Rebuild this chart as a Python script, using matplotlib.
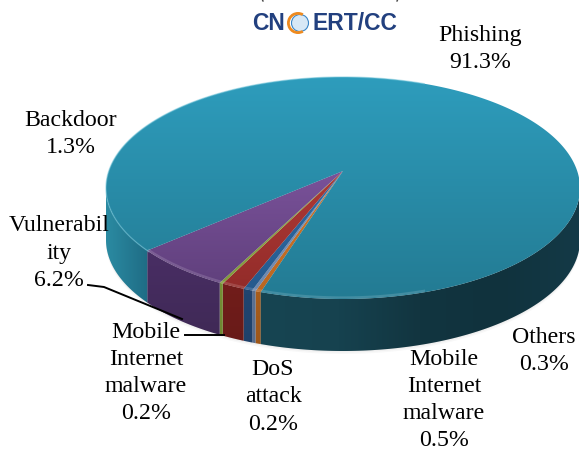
import numpy as np
import matplotlib
matplotlib.use("Agg")
import matplotlib.pyplot as plt
from matplotlib.patches import Polygon, Wedge, Circle
from matplotlib.colors import LinearSegmentedColormap as LSC

# clockwise order, starting at the Phishing slice's right boundary
categories = ["Others", "DoS attack", "Mobile Internet malware", "Backdoor",
              "Mobile Internet malware", "Vulnerability", "Phishing"]
values = [0.3, 0.2, 0.5, 1.3, 0.2, 6.2, 91.3]
top_cols = [("#d2782c", "#b8651f"), ("#7f97bb", "#6d86ac"), ("#2f6ea8", "#24578a"),
            ("#b03a36", "#8f2a28"), ("#93a94a", "#7f9a3a"), ("#7a529a", "#5c3d78"),
            ("#2e9dbd", "#237a92")]
side_cols = [("#b5641f", "#9a5519"), ("#5f7596", "#566b8c"), ("#234a78", "#1f4068"),
             ("#7a1f1c", "#661a18"), ("#7f9a3a", "#6a8230"), ("#4b2f68", "#3d2852"),
             ("#164a5c", "#1d7088")]

W, H = 579, 452
cx, cy, rx, ry = 343, 189, 237, 111
apex = (343, 172)
depth = 52
start_deg = 15.8  # true angle (left of straight down) where the first slice begins
persp = 0.30      # perspective stretch of the front of the pie

plt.rcParams["font.family"] = ["Liberation Serif", "DejaVu Serif"]
fig = plt.figure(figsize=(W / 100, H / 100), dpi=100)
ax = fig.add_axes([0, 0, 1, 1])
ax.set_xlim(0, W); ax.set_ylim(H, 0); ax.axis("off")


def warp(t):
    return t + np.degrees(persp * np.sin(2 * np.radians(t)) / 2)


def rim(t):
    t = np.radians(t)
    return cx - rx * np.sin(t), cy + ry * np.cos(t)


def grad(patch, c0, c1, horizontal, extent):
    ax.add_patch(patch)
    patch.set_facecolor("none"); patch.set_edgecolor("none")
    g = np.linspace(0, 1, 256)
    g = g[None, :] if horizontal else g[:, None]
    im = ax.imshow(g, cmap=LSC.from_list("g", c0 if c1 is None else [c0, c1]), aspect="auto",
                   zorder=patch.get_zorder(), extent=extent, interpolation="bilinear")
    im.set_clip_path(patch)
    ax.set_xlim(0, W); ax.set_ylim(H, 0)


# soft shadow
for i, a in enumerate([0.05, 0.07, 0.1]):
    xs, ys = rim(np.linspace(0, 360, 200))
    ax.add_patch(Polygon(np.c_[xs, ys + depth + 3 - i * 1.5], fc="#888888", ec="none", alpha=a, zorder=1))

shares = np.array(values) / sum(values) * 360
edges = warp(start_deg + np.r_[0, np.cumsum(shares)])
for i in range(len(values)):
    a, b = edges[i], edges[i + 1]
    segs = [(a, 90), (270, b)] if i == len(values) - 1 else [(a, b)]
    for s0, s1 in segs:
        xs, ys = rim(np.linspace(s0, s1, 120))
        pts = np.r_[np.c_[xs, ys], np.c_[xs, ys + depth][::-1]]
        if i == len(values) - 1:
            if s0 == a:
                grad(Polygon(pts, zorder=2), "#2b8ba2", "#1f6c85", True, (106, 148, 360, 170))
            else:
                grad(Polygon(pts, zorder=2), ["#174552", "#16424f", "#123540", "#10323d", "#143a47"],
                     None, True, (258, 581, 360, 170))
        else:
            grad(Polygon(pts, zorder=2), side_cols[i][0], side_cols[i][1], False, (100, 585, 360, 230))

    xs, ys = rim(np.linspace(a, b, max(8, int(b - a) * 2)))
    pts = np.r_[[apex], np.c_[xs, ys]]
    ext = (100, 585, 305, 75) if i == len(values) - 1 else (100, 585, 305, 170)
    grad(Polygon(pts, zorder=3), top_cols[i][0], top_cols[i][1], False, ext)

# bevel around the top edge
xs, ys = rim(np.linspace(55, 200, 200))
ax.plot(xs, ys, color="#6fc3d8", lw=1.0, alpha=0.5, zorder=4)
xs, ys = rim(np.linspace(-20, 55, 200))
ax.plot(xs, ys - 1.5, color="#ffffff", lw=1.6, alpha=0.14, zorder=4)

# leader lines
ax.plot([88, 104, 182], [286, 288, 320], color="black", lw=1.4, zorder=6)
ax.plot([185, 224], [336, 336], color="black", lw=1.4, zorder=6)

# labels
fs = 17.2
label_text = [(480, 49, f"Phishing\n{values[6]}%"),
              (71, 134, f"Backdoor\n{values[3]}%"),
              (59, 253, f"Vulnerabil\nity\n{values[5]}%"),
              (146, 373, f"Mobile\nInternet\nmalware\n{values[4]}%"),
              (273, 397, f"DoS\nattack\n{values[1]}%"),
              (444, 400, f"Mobile\nInternet\nmalware\n{values[2]}%"),
              (544, 351, f"Others\n{values[0]}%")]
for x, y, s in label_text:
    ax.text(x, y, s, ha="center", va="center", fontsize=fs, linespacing=1.38, color="black", zorder=7)

# logo
navy = "#22407f"
ax.text(285, 24, "CN", ha="right", va="center", fontsize=16.5, fontweight="bold",
        family=["Liberation Sans"], color=navy, zorder=7)
ax.text(312, 24, "ERT/CC", ha="left", va="center", fontsize=16.5, fontweight="bold",
        family=["Liberation Sans"], color=navy, zorder=7)
ax.add_patch(Circle((300, 24), 8.5, fc="#d7e8f6", ec="#3a86c8", lw=0.8, zorder=7))
ax.add_patch(Wedge((298, 24), 11, 60, 300, width=2.8, fc="#ee8a1f", ec="none", zorder=8))
# clipped remains of the cropped caption's brackets at the top edge
ax.plot([262, 263], [0, 2], color="#444444", lw=1, zorder=7)
ax.plot([398, 397], [0, 2], color="#444444", lw=1, zorder=7)

fig.savefig("out.png", dpi=100)
